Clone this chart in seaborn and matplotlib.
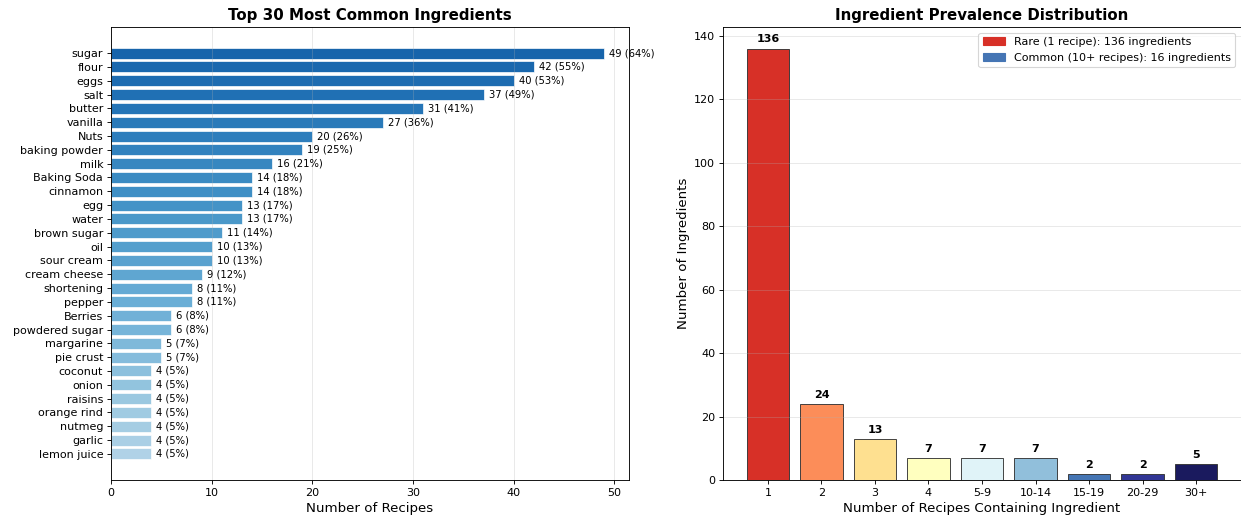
import numpy as np
import matplotlib
matplotlib.use("Agg")
import matplotlib.pyplot as plt
import seaborn as sns
from matplotlib.patches import Patch

# left panel: top 30 ingredients
ingredients = ["sugar", "flour", "eggs", "salt", "butter", "vanilla", "Nuts", "baking powder",
               "milk", "Baking Soda", "cinnamon", "egg", "water", "brown sugar", "oil",
               "sour cream", "cream cheese", "shortening", "pepper", "Berries", "powdered sugar",
               "margarine", "pie crust", "coconut", "onion", "raisins", "orange rind", "nutmeg",
               "garlic", "lemon juice"]
recipe_counts = [49, 42, 40, 37, 31, 27, 20, 19, 16, 14, 14, 13, 13, 11, 10,
                 10, 9, 8, 8, 6, 6, 5, 5, 4, 4, 4, 4, 4, 4, 4]
total_recipes = 76

# right panel: prevalence distribution
bins = ["1", "2", "3", "4", "5-9", "10-14", "15-19", "20-29", "30+"]
bin_counts = [136, 24, 13, 7, 7, 7, 2, 2, 5]
rare_count = 136
common_count = 16

dpi = 80
fig = plt.figure(figsize=(1241 / dpi, 523 / dpi), dpi=dpi)
ax1 = fig.add_axes([111 / 1241, 43 / 523, 518 / 1241, 453 / 523])
ax2 = fig.add_axes([723 / 1241, 43 / 523, 518 / 1241, 453 / 523])

# ---- left: horizontal bars
blues = [tuple(c) for c in plt.cm.Blues(np.linspace(0.8, 0.32, len(ingredients)))]
sns.barplot(x=recipe_counts, y=ingredients, hue=ingredients, palette=blues, legend=False,
            orient="h", saturation=1, edgecolor="white", linewidth=0.6, ax=ax1)
for i, c in enumerate(recipe_counts):
    ax1.text(c + 0.5, i, f"{c} ({c / total_recipes * 100:.0f}%)", va="center", ha="left", fontsize=9)
n = len(ingredients)
ax1.set_ylim(n - 1 + 1.89, -1.89)
ax1.set_xlim(0, max(recipe_counts) * 1.05)
ax1.grid(axis="x", alpha=0.3)
ax1.set_xlabel("Number of Recipes", fontsize=12)
ax1.set_ylabel("")
ax1.set_title("Top 30 Most Common Ingredients", fontsize=13.5, fontweight="bold")
ax1.tick_params(labelsize=10)

# ---- right: distribution bars
dist_colors = ["#d73027", "#fc8d59", "#fee090", "#ffffbf", "#e0f3f8",
               "#91bfdb", "#4575b4", "#313695", "#1a1a5e"]
sns.barplot(x=bins, y=bin_counts, hue=bins, palette=dist_colors, legend=False,
            saturation=1, edgecolor="#333333", linewidth=0.8, ax=ax2)
for i, c in enumerate(bin_counts):
    ax2.text(i, c + 1.3, str(c), ha="center", va="bottom", fontsize=10, fontweight="bold")
ax2.set_xlim(-0.84, len(bins) - 1 + 0.84)
ax2.set_ylim(0, max(bin_counts) * 1.05)
ax2.grid(axis="y", alpha=0.3)
ax2.set_xlabel("Number of Recipes Containing Ingredient", fontsize=12)
ax2.set_ylabel("Number of Ingredients", fontsize=12)
ax2.set_title("Ingredient Prevalence Distribution", fontsize=13.5, fontweight="bold")
ax2.tick_params(labelsize=10)

handles = [Patch(color="#d73027", label=f"Rare (1 recipe): {rare_count} ingredients"),
           Patch(color="#4575b4", label=f"Common (10+ recipes): {common_count} ingredients")]
ax2.legend(handles=handles, loc="upper right", fontsize=10)

fig.savefig("out.png", dpi=dpi)
